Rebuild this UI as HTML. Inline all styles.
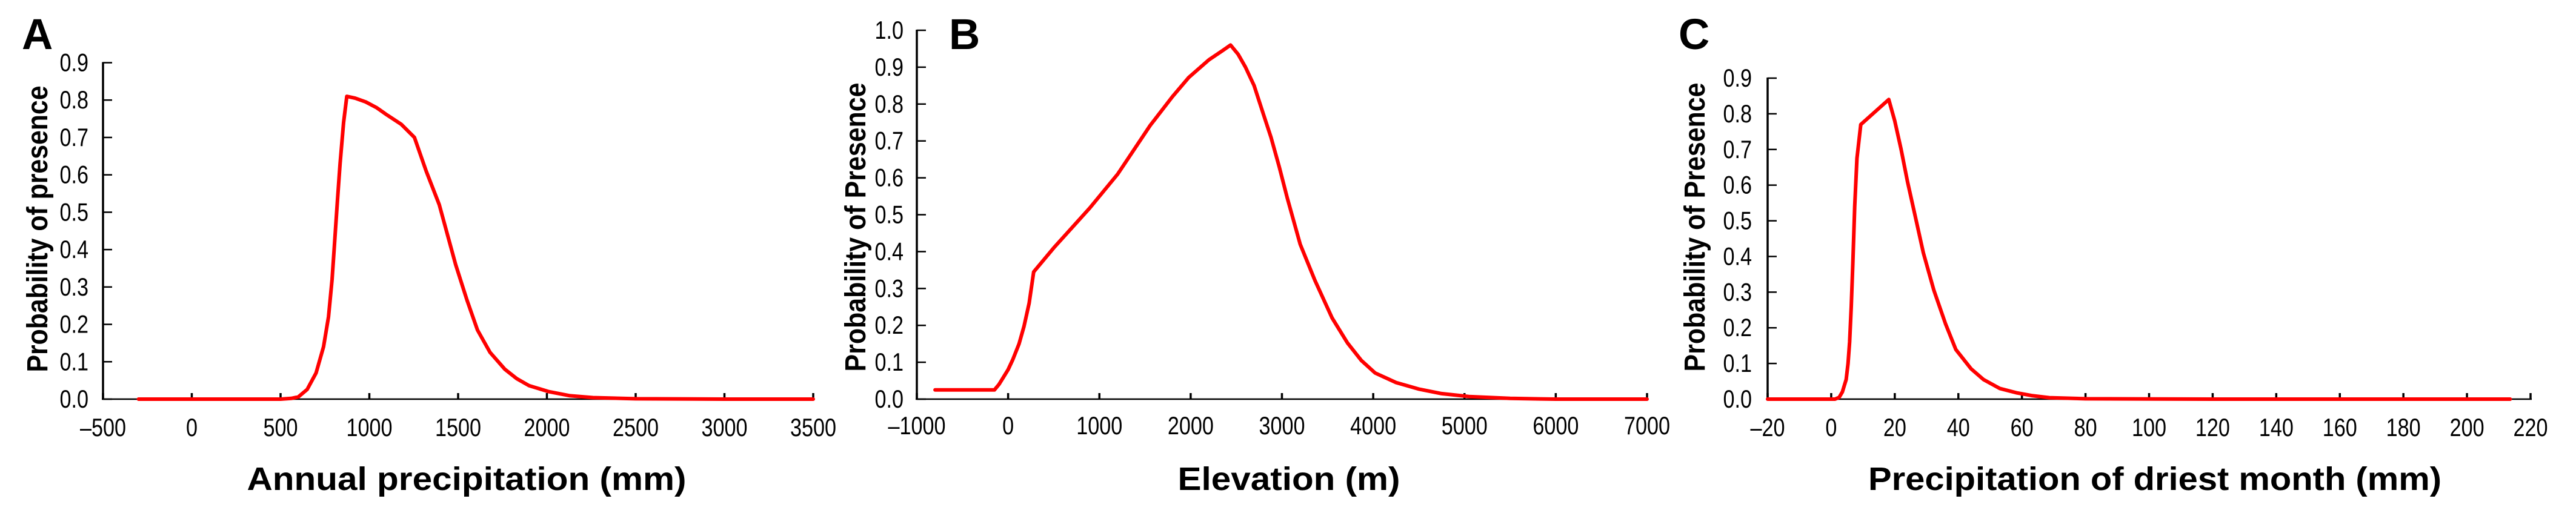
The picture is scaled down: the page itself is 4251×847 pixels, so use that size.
<!DOCTYPE html>
<html><head><meta charset="utf-8">
<style>
html,body{margin:0;padding:0;background:#fff;overflow:hidden;}
svg{display:block;}
text{font-family:"Liberation Sans",Arial,sans-serif;fill:#000;}
</style></head>
<body>
<svg id="fig" width="4251" height="847" viewBox="0 0 4251 847" xmlns="http://www.w3.org/2000/svg"></svg>
<script>
// Panel A: annual precipitation
const aX = [-300, 0, 500, 560, 600, 650, 700, 742, 770, 790, 803, 820, 835, 855, 873, 920, 980, 1040, 1100, 1180, 1254, 1320, 1394, 1440, 1486, 1550, 1609, 1680, 1763, 1830, 1900, 2012, 2130, 2259, 2500, 3000, 3500];
const aY = [0, 0, 0, 0.002, 0.006, 0.026, 0.07, 0.14, 0.22, 0.32, 0.41, 0.53, 0.63, 0.74, 0.81, 0.805, 0.795, 0.78, 0.76, 0.735, 0.70, 0.61, 0.52, 0.44, 0.36, 0.265, 0.185, 0.125, 0.08, 0.055, 0.036, 0.02, 0.009, 0.004, 0.001, 0, 0];
const aXTicks = [-500, 0, 500, 1000, 1500, 2000, 2500, 3000, 3500];
const aYTicks = [0, 0.1, 0.2, 0.3, 0.4, 0.5, 0.6, 0.7, 0.8, 0.9];
// Panel B: elevation
const bX = [-800, -150, -100, -50, 0, 51, 120, 174, 230, 280, 500, 894, 1200, 1557, 1800, 1978, 2200, 2350, 2437, 2520, 2600, 2695, 2800, 2880, 2970, 3058, 3200, 3361, 3550, 3719, 3870, 4021, 4250, 4505, 4750, 5048, 5500, 6000, 7000];
const bY = [0.025, 0.025, 0.04, 0.06, 0.08, 0.107, 0.15, 0.197, 0.26, 0.345, 0.41, 0.518, 0.61, 0.742, 0.82, 0.872, 0.92, 0.945, 0.96, 0.935, 0.9, 0.85, 0.77, 0.71, 0.63, 0.546, 0.42, 0.322, 0.22, 0.152, 0.105, 0.071, 0.045, 0.027, 0.015, 0.007, 0.002, 0, 0];
const bXTicks = [-1000, 0, 1000, 2000, 3000, 4000, 5000, 6000, 7000];
const bYTicks = [0, 0.1, 0.2, 0.3, 0.4, 0.5, 0.6, 0.7, 0.8, 0.9, 1.0];
// Panel C: precipitation of driest month
const cX = [-20, 1.2, 2.5, 3.5, 4.7, 5.3, 5.8, 6.3, 6.8, 7.4, 8.1, 9.3, 18.1, 20, 22, 24, 26.3, 29, 32.3, 36, 39.2, 44, 47.9, 53, 58.2, 63, 68.6, 80, 120, 213.6];
const cY = [0, 0, 0.005, 0.02, 0.055, 0.1, 0.16, 0.26, 0.38, 0.54, 0.675, 0.77, 0.84, 0.78, 0.70, 0.61, 0.518, 0.41, 0.305, 0.21, 0.139, 0.085, 0.055, 0.03, 0.018, 0.01, 0.004, 0.001, 0, 0];
const cXTicks = [-20, 0, 20, 40, 60, 80, 100, 120, 140, 160, 180, 200, 220];
const cYTicks = [0, 0.1, 0.2, 0.3, 0.4, 0.5, 0.6, 0.7, 0.8, 0.9];

const NS = "http://www.w3.org/2000/svg";
const svg = document.getElementById('fig');
function mk(tag, attrs, parent) {
  const e = document.createElementNS(NS, tag);
  for (const k in attrs) e.setAttribute(k, attrs[k]);
  (parent || svg).appendChild(e);
  return e;
}

function panel(p) {
  const g = mk('g', {});
  
  
  const sx = v => p.x0 + (v - p.xmin) / (p.xmax - p.xmin) * (p.x1 - p.x0);
  const sy = v => p.y0 - (v - p.ymin) / (p.ymax - p.ymin) * (p.y0 - p.y1);

  const yax = mk('line', {x1: p.x0, y1: p.y0 + 1, x2: p.x0, y2: p.y1 - 1, stroke: '#000', 'stroke-width': 3.5}, g);
  
  
  const xax = mk('line', {x1: p.x0 - 2, y1: p.y0, x2: p.x1 + 2, y2: p.y0, stroke: '#000', 'stroke-width': 2.5}, g);
  
  

  p.yt.forEach(v => {
    const y = sy(v);
    const t = mk('line', {x1: p.x0, y1: y, x2: p.x0 + 15, y2: y, stroke: '#000', 'stroke-width': 2.5}, g);
    
    
    const tx = mk('text', {transform: `translate(${p.ylabR},${y + 14}) scale(0.9,1.1)`, 'font-size': 38, 'text-anchor': 'end'}, g);
    tx.textContent = v.toFixed(1);
    
    
  });
  p.xt.forEach(v => {
    const x = sx(v);
    const t = mk('line', {x1: x, y1: p.y0, x2: x, y2: p.y0 - 10, stroke: '#000', 'stroke-width': 3.5}, g);
    
    
    const tx = mk('text', {transform: `translate(${x},${p.xlabB}) scale(0.9,1.1)`, 'font-size': 38, 'text-anchor': 'middle'}, g);
    tx.textContent = v < 0 ? '\u2013' + Math.abs(v) : String(v);
    
    
  });

  const pts = p.xs.map((v, i) => sx(v).toFixed(1) + ',' + sy(p.ys[i]).toFixed(1)).join(' ');
  const line = mk('polyline', {points: pts, fill: 'none', stroke: '#ff0000', 'stroke-width': 6, 'stroke-linejoin': 'round', 'stroke-linecap': 'round'}, g);
  
  

  const xt = mk('text', {x: p.xtC - p.xtW / 2, y: 809, 'font-size': 54, 'font-weight': 'bold', textLength: p.xtW, lengthAdjust: 'spacingAndGlyphs'}, g);
  xt.textContent = p.xtitle;
  
  
  const ytg = mk('g', {transform: `translate(${p.ytX},${p.ytC}) rotate(-90)`}, g);
  const yt = mk('text', {x: -p.ytL / 2, y: 0, 'font-size': 48, 'font-weight': 'bold', textLength: p.ytL, lengthAdjust: 'spacingAndGlyphs'}, ytg);
  yt.textContent = p.ytitle;
  
  
  const lab = mk('text', {x: p.labX, y: 81, 'font-size': 71, 'font-weight': 'bold'}, g);
  lab.textContent = p.label;
  
  
}

panel({name: 'panel-a', x0: 170, x1: 1342, y0: 659, y1: 103.5, xmin: -500, xmax: 3500, ymin: 0, ymax: 0.9,
  xs: aX, ys: aY, xt: aXTicks, yt: aYTicks, ylabR: 146, xlabB: 720,
  xtitle: 'Annual precipitation (mm)', xtC: 770, xtW: 725,
  ytitle: 'Probability of presence', ytX: 78, ytC: 378, ytL: 473, label: 'A', labX: 36});
panel({name: 'panel-b', x0: 1513, x1: 2718, y0: 659, y1: 50, xmin: -1000, xmax: 7000, ymin: 0, ymax: 1.0,
  xs: bX, ys: bY, xt: bXTicks, yt: bYTicks, ylabR: 1491, xlabB: 717,
  xtitle: 'Elevation (m)', xtC: 2127, xtW: 367,
  ytitle: 'Probability of Presence', ytX: 1428, ytC: 375, ytL: 477, label: 'B', labX: 1566});
panel({name: 'panel-c', x0: 2917, x1: 4176, y0: 659, y1: 129, xmin: -20, xmax: 220, ymin: 0, ymax: 0.9,
  xs: cX, ys: cY, xt: cXTicks, yt: cYTicks, ylabR: 2891, xlabB: 720,
  xtitle: 'Precipitation of driest month (mm)', xtC: 3556, xtW: 946,
  ytitle: 'Probability of Presence', ytX: 2813, ytC: 375, ytL: 477, label: 'C', labX: 2770});
</script>
</body></html>
